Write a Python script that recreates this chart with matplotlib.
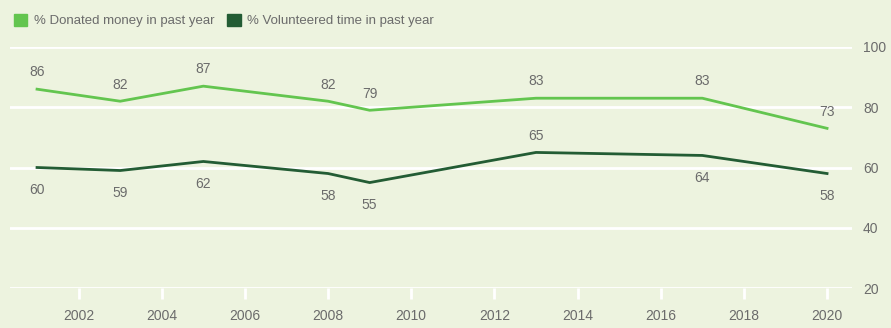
import matplotlib.pyplot as plt
import matplotlib.patches as mpatches

years = [2001, 2003, 2005, 2008, 2009, 2013, 2017, 2020]
donated = [86, 82, 87, 82, 79, 83, 83, 73]
volunteered = [60, 59, 62, 58, 55, 65, 64, 58]
vol_label_above = [False, False, False, False, False, True, False, False]

bg = '#edf3df'
c_don = '#63c54f'
c_vol = '#235c34'
txt = '#6b6b6b'

plt.rcParams['font.family'] = ['Liberation Sans', 'DejaVu Sans']

fig = plt.figure(figsize=(8.91, 3.28), dpi=100, facecolor=bg)
ax = fig.add_axes([10/891, 1 - 288/328, 842/891, 241/328])
ax.set_facecolor(bg)

ax.plot(years, donated, color=c_don, lw=2, zorder=3)
ax.plot(years, volunteered, color=c_vol, lw=2, zorder=3)

for x, y in zip(years, donated):
    ax.annotate(str(y), (x, y), xytext=(0, 7), textcoords='offset points',
                ha='center', va='bottom', fontsize=10, color=txt)
for x, y, up in zip(years, volunteered, vol_label_above):
    if up:
        ax.annotate(str(y), (x, y), xytext=(0, 7), textcoords='offset points',
                    ha='center', va='bottom', fontsize=10, color=txt)
    else:
        ax.annotate(str(y), (x, y), xytext=(0, -11), textcoords='offset points',
                    ha='center', va='top', fontsize=10, color=txt)

ax.set_xlim(2000.35, 2020.6)
ax.set_ylim(20, 100)
ax.set_yticks([20, 40, 60, 80, 100])
ax.set_xticks(range(2002, 2021, 2))
ax.grid(axis='y', color='white', lw=2)
ax.set_axisbelow(True)
for s in ax.spines.values():
    s.set_visible(False)
ax.yaxis.tick_right()
ax.tick_params(axis='y', length=0, pad=8, labelsize=10, labelcolor=txt)
ax.tick_params(axis='x', length=8, width=2, color='white', pad=7,
               labelsize=10, labelcolor=txt)

handles = [mpatches.Patch(color=c_don, label='% Donated money in past year'),
           mpatches.Patch(color=c_vol, label='% Volunteered time in past year')]
fig.legend(handles=handles, loc='upper left', bbox_to_anchor=(2/891, 1 - 2/328),
           ncol=2, frameon=False, fontsize=9.5, labelcolor=txt,
           handlelength=1, handleheight=1, handletextpad=0.5, columnspacing=1.0)

fig.savefig('out.png', dpi=100, facecolor=bg)
